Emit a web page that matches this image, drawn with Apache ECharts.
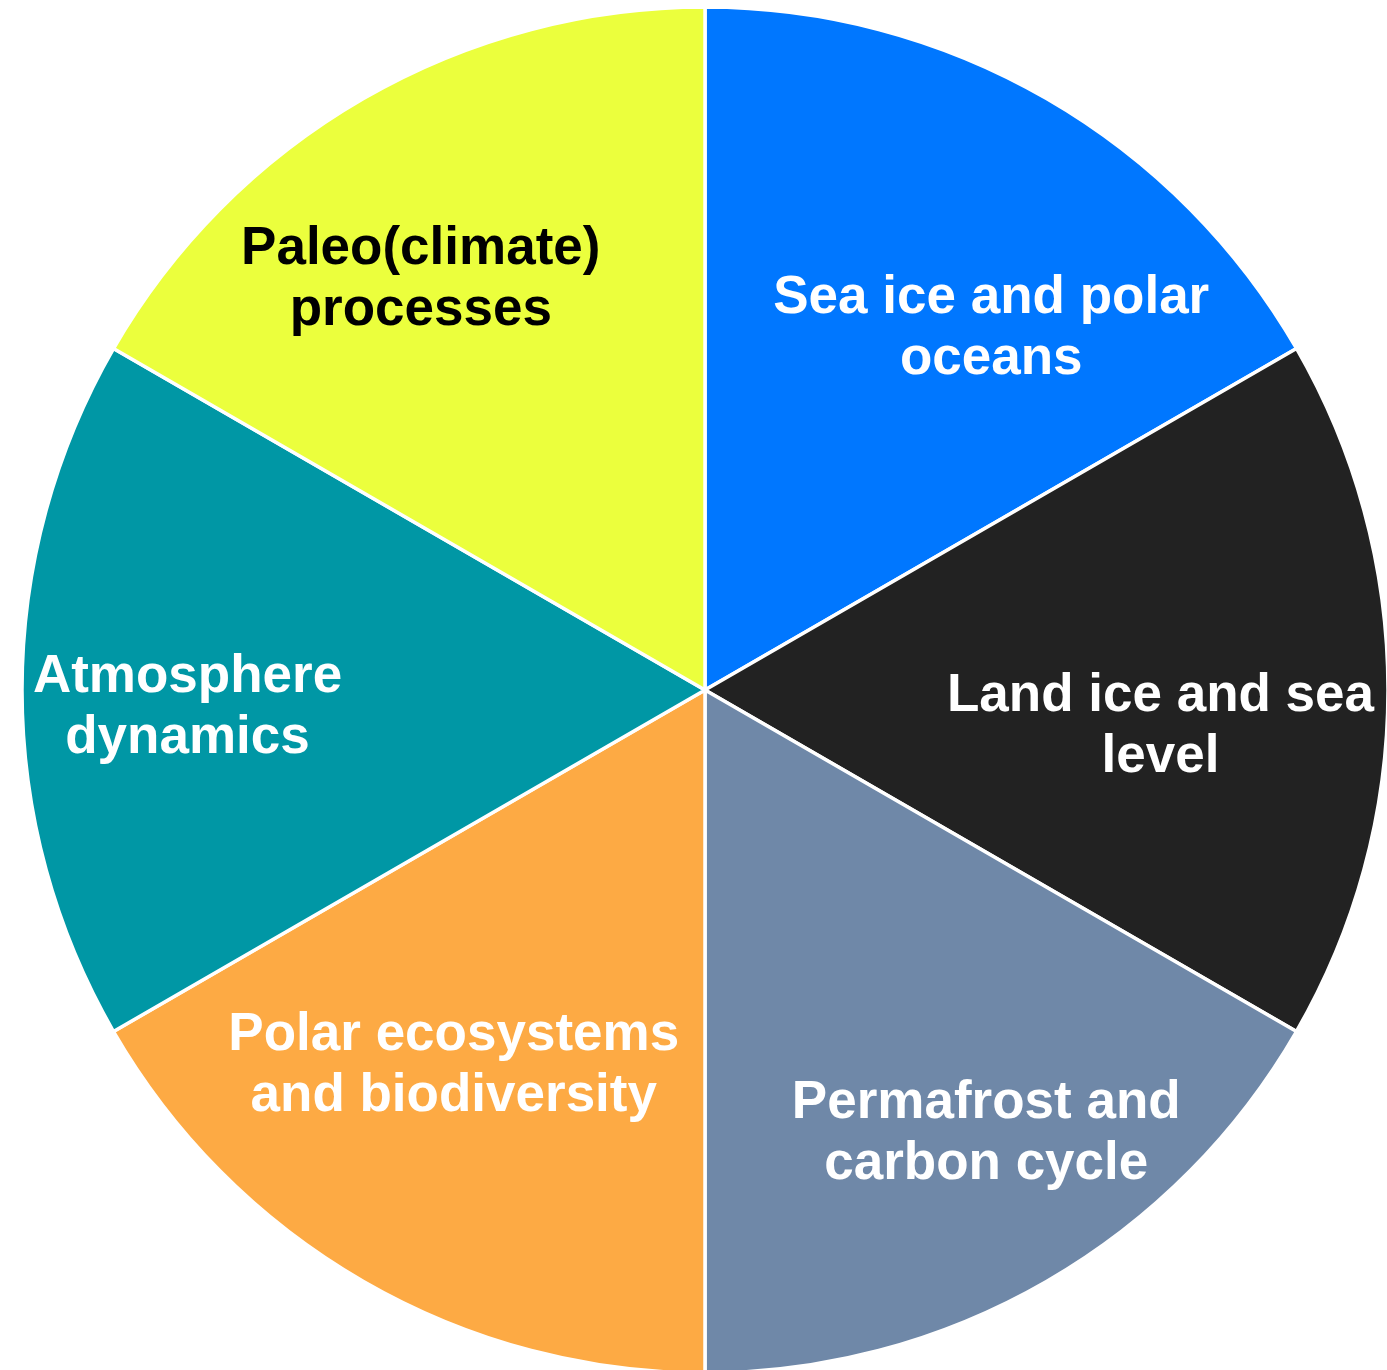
<!DOCTYPE html>
<html>
<head>
<meta charset="utf-8">
<script src="https://cdn.jsdelivr.net/npm/echarts@6/dist/echarts.min.js"></script>
<style>
  html, body { margin: 0; padding: 0; background: #ffffff; }
  #chart { width: 1387px; height: 1370px; }
</style>
</head>
<body>
<div id="chart"></div>
<script>
// ---- data ----
const categories = [
  'Sea ice and polar\noceans',
  'Land ice and sea\nlevel',
  'Permafrost and\ncarbon cycle',
  'Polar ecosystems\nand biodiversity',
  'Atmosphere\ndynamics',
  'Paleo(climate)\nprocesses'
];
const shares = [1, 1, 1, 1, 1, 1];

// ---- styles ----
const colors = ['#0077FF', '#222222', '#6F88A8', '#FDAA44', '#0097A5', '#EBFF3D'];
const textColors = ['#ffffff', '#ffffff', '#ffffff', '#ffffff', '#ffffff', '#000000'];
const labelOffsets = [[114, -63], [111, 37], [109, 146], [-79, 78], [-173, 18], [-112, -112]];

const chart = echarts.init(document.getElementById('chart'), null, { renderer: 'canvas' });
chart.setOption({
  animation: false,
  backgroundColor: '#ffffff',
  series: [{
    type: 'pie',
    center: [705, 690],
    radius: [0, 683],
    startAngle: 90,
    clockwise: true,
    avoidLabelOverlap: false,
    emphasis: { disabled: true },
    itemStyle: { borderColor: '#ffffff', borderWidth: 3.5 },
    label: {
      show: true,
      position: 'inside',
      fontFamily: '"Liberation Sans", Arial, sans-serif',
      fontWeight: 'bold',
      fontSize: 53,
      lineHeight: 61,
      align: 'center'
    },
    labelLine: { show: false },
    data: categories.map((name, i) => ({
      name: name,
      value: shares[i],
      itemStyle: { color: colors[i] },
      label: { color: textColors[i], offset: labelOffsets[i] }
    }))
  }]
});
</script>
</body>
</html>
